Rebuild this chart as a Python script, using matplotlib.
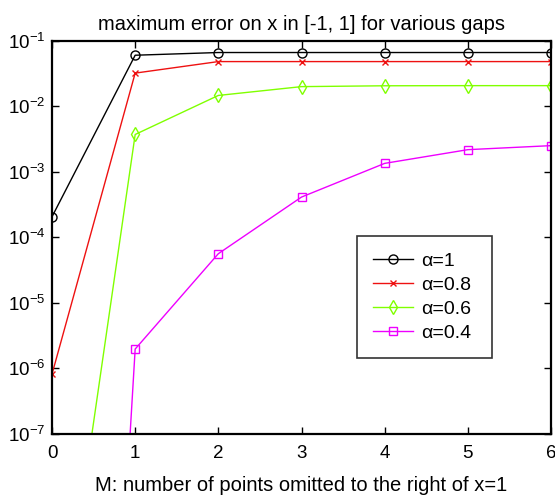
import matplotlib
matplotlib.use("Agg")
import matplotlib.pyplot as plt
from matplotlib.ticker import FixedLocator, NullLocator

M = [0, 1, 2, 3, 4, 5, 6]
err_a10 = [2.05e-4, 0.060, 0.066, 0.066, 0.066, 0.066, 0.066]
err_a08 = [8.1e-7, 0.032, 0.048, 0.048, 0.048, 0.048, 0.048]
err_a06 = [6e-12, 0.0037, 0.0146, 0.0199, 0.0205, 0.0206, 0.0206]
err_a04 = [1e-27, 1.96e-6, 5.6e-5, 4.1e-4, 1.34e-3, 2.17e-3, 2.5e-3]
labels = ["α=1", "α=0.8", "α=0.6", "α=0.4"]
title = "maximum error on x in [-1, 1] for various gaps"
xlabel = "M: number of points omitted to the right of x=1"
ytick_vals = [1e-7, 1e-6, 1e-5, 1e-4, 1e-3, 1e-2, 1e-1]
ytick_labels = [r'$10^{-7}$', r'$10^{-6}$', r'$10^{-5}$', r'$10^{-4}$', r'$10^{-3}$', r'$10^{-2}$', r'$10^{-1}$']

plt.rcParams['font.family'] = ['Liberation Sans', 'DejaVu Sans']
plt.rcParams['mathtext.fontset'] = 'custom'
plt.rcParams['mathtext.rm'] = 'Liberation Sans'
plt.rcParams['mathtext.default'] = 'regular'

fig = plt.figure(figsize=(5.55, 4.97), dpi=100)
ax = fig.add_axes([52/555, (497-433.7)/497, (551-52)/555, (433.7-40.7)/497])

ax.plot(M, err_a10, color='black', lw=1, marker='o', ms=6.5, mfc='none', mew=1, label=labels[0])
ax.plot(M, err_a08, color='#ee1111', lw=1, marker='x', ms=4, mew=1, label=labels[1])
ax.plot(M, err_a06, color='#80ff00', lw=1, marker='d', ms=7, mfc='none', mew=1, label=labels[2])
ax.plot(M, err_a04, color='#ee00ff', lw=1, marker='s', ms=5.5, mfc='none', mew=1, label=labels[3])

ax.set_yscale('log')
ax.set_xlim(0, 6)
ax.set_ylim(1e-7, 1e-1)
ax.xaxis.set_major_locator(FixedLocator(M))
ax.yaxis.set_major_locator(FixedLocator(ytick_vals))
ax.yaxis.set_minor_locator(NullLocator())
ax.set_yticklabels(ytick_labels)
ax.tick_params(which='both', direction='in', top=True, right=True, length=5, width=1)
ax.tick_params(axis='x', labelsize=13.5, pad=8)
ax.tick_params(axis='y', labelsize=13.5, pad=4.5)
for s in ax.spines.values():
    s.set_linewidth(1.6)

ax.set_title(title, fontsize=14.5, pad=8)
ax.set_xlabel(xlabel, fontsize=14.5)
ax.xaxis.set_label_coords(0.5, -0.108)

leg = ax.legend(loc='lower left', bbox_to_anchor=(0.611, 0.193, 0.271, 0.305), mode='expand',
                fontsize=14, frameon=True, fancybox=False, edgecolor='black',
                handlelength=2.05, handletextpad=0.4, borderpad=0.83, labelspacing=0.33,
                borderaxespad=0)
leg.get_frame().set_linewidth(1.2)

fig.savefig('out.png', dpi=100)
